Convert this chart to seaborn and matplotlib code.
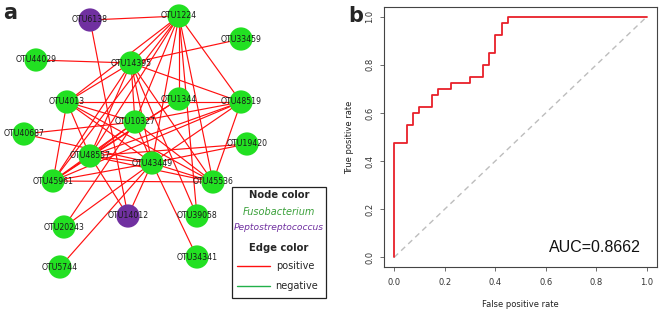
import matplotlib
matplotlib.use("Agg")
import matplotlib.pyplot as plt
import seaborn as sns
import pandas as pd

# ---------------- data ----------------
node_names = ["OTU6138", "OTU1224", "OTU44029", "OTU14395", "OTU33459", "OTU4013",
              "OTU1344", "OTU48519", "OTU10327", "OTU40687", "OTU19420", "OTU48557",
              "OTU43449", "OTU45961", "OTU45536", "OTU14012", "OTU39058", "OTU20243",
              "OTU34341", "OTU5744"]
node_genus = ["Peptostreptococcus", "Fusobacterium", "Fusobacterium", "Fusobacterium",
              "Fusobacterium", "Fusobacterium", "Fusobacterium", "Fusobacterium",
              "Fusobacterium", "Fusobacterium", "Fusobacterium", "Fusobacterium",
              "Fusobacterium", "Fusobacterium", "Fusobacterium", "Peptostreptococcus",
              "Fusobacterium", "Fusobacterium", "Fusobacterium", "Fusobacterium"]
edges = [
    ("OTU6138", "OTU1224"), ("OTU6138", "OTU14012"), ("OTU44029", "OTU14395"),
    ("OTU14395", "OTU33459"), ("OTU14395", "OTU48519"), ("OTU1224", "OTU14395"),
    ("OTU1224", "OTU4013"), ("OTU1224", "OTU10327"), ("OTU1224", "OTU48557"),
    ("OTU1224", "OTU45961"), ("OTU1224", "OTU43449"), ("OTU1224", "OTU1344"),
    ("OTU1224", "OTU48519"), ("OTU1224", "OTU45536"), ("OTU1224", "OTU39058"),
    ("OTU14395", "OTU4013"), ("OTU14395", "OTU45961"), ("OTU14395", "OTU48557"),
    ("OTU14395", "OTU10327"), ("OTU14395", "OTU43449"), ("OTU14395", "OTU39058"),
    ("OTU14395", "OTU45536"), ("OTU4013", "OTU48519"), ("OTU4013", "OTU10327"),
    ("OTU4013", "OTU43449"), ("OTU4013", "OTU45536"), ("OTU4013", "OTU45961"),
    ("OTU4013", "OTU48557"), ("OTU1344", "OTU45961"), ("OTU1344", "OTU48557"),
    ("OTU48519", "OTU10327"), ("OTU48519", "OTU48557"), ("OTU48519", "OTU45961"),
    ("OTU48519", "OTU43449"), ("OTU48519", "OTU45536"), ("OTU40687", "OTU10327"),
    ("OTU40687", "OTU43449"), ("OTU10327", "OTU45961"), ("OTU10327", "OTU48557"),
    ("OTU10327", "OTU43449"), ("OTU10327", "OTU45536"), ("OTU10327", "OTU20243"),
    ("OTU48557", "OTU43449"), ("OTU48557", "OTU45536"), ("OTU48557", "OTU14012"),
    ("OTU48557", "OTU45961"), ("OTU45961", "OTU43449"), ("OTU45961", "OTU45536"),
    ("OTU43449", "OTU19420"), ("OTU43449", "OTU45536"), ("OTU43449", "OTU34341"),
    ("OTU43449", "OTU14012"), ("OTU43449", "OTU20243"), ("OTU43449", "OTU5744"),
    ("OTU19420", "OTU48557"),
]

fpr = [0.0, 0.0, 0.05, 0.075, 0.1, 0.15, 0.175, 0.225, 0.3, 0.35, 0.375, 0.4, 0.425, 0.45, 1.0]
tpr = [0.0, 0.475, 0.55, 0.6, 0.625, 0.675, 0.7, 0.725, 0.75, 0.8, 0.85, 0.925, 0.975, 1.0, 1.0]
auc_text = "AUC=0.8662"
x_ticks = [0.0, 0.2, 0.4, 0.6, 0.8, 1.0]
y_ticks = [0.0, 0.2, 0.4, 0.6, 0.8, 1.0]

# ---------------- layout (pixel positions of network nodes) ----------------
layout = {
    "OTU6138": (90, 20), "OTU1224": (179, 16), "OTU44029": (36, 60), "OTU14395": (131, 63),
    "OTU33459": (241, 39), "OTU4013": (67, 102), "OTU1344": (179, 99), "OTU48519": (241, 102),
    "OTU10327": (135, 122), "OTU40687": (24, 134), "OTU19420": (247, 144), "OTU48557": (90, 156),
    "OTU43449": (152, 163), "OTU45961": (53, 181), "OTU45536": (213, 182), "OTU14012": (128, 216),
    "OTU39058": (197, 216), "OTU20243": (64, 227), "OTU34341": (197, 257), "OTU5744": (60, 267),
}

sns.set_style("white")
plt.rcParams["font.family"] = ["DejaVu Sans"]

fig = plt.figure(figsize=(6.6, 3.1), dpi=100)

# ---------------- panel a: network ----------------
ax1 = fig.add_axes([0, 0, 0.5, 1])

for a, b in edges:
    (x0, y0), (x1, y1) = layout[a], layout[b]
    ax1.plot([x0, x1], [y0, y1], color="#FF1010", lw=0.85, zorder=1, solid_capstyle="butt")

nodes_df = pd.DataFrame({
    "name": node_names,
    "genus": node_genus,
    "x": [layout[n][0] for n in node_names],
    "y": [layout[n][1] for n in node_names],
})
sns.scatterplot(data=nodes_df, x="x", y="y", hue="genus",
                palette={"Fusobacterium": "#22E022", "Peptostreptococcus": "#7030A0"},
                s=280, edgecolor="none", legend=False, ax=ax1, zorder=2)
ax1.set_xlabel("")
ax1.set_ylabel("")
ax1.set_xlim(0, 330)
ax1.set_ylim(310, 0)
ax1.axis("off")
for _, r in nodes_df.iterrows():
    ax1.text(r["x"], r["y"], r["name"], ha="center", va="center", fontsize=5.6,
             color="#1a1a1a", zorder=3)

ax1.text(3, 13, "a", fontsize=15, fontweight="bold", ha="left", va="center")

# legend box
ax1.add_patch(plt.Rectangle((232, 187), 94, 111, fill=False, edgecolor="#222222", lw=0.9, zorder=4))
ax1.text(279, 195, "Node color", fontsize=7.2, fontweight="bold", ha="center", va="center")
ax1.text(279, 212, "Fusobacterium", fontsize=7, style="italic", color="#3AA03A", ha="center", va="center")
ax1.text(279, 228, "Peptostreptococcus", fontsize=6.6, style="italic", color="#7030A0", ha="center", va="center")
ax1.text(279, 248, "Edge color", fontsize=7.2, fontweight="bold", ha="center", va="center")
ax1.plot([237, 270], [266, 266], color="#FF1010", lw=1.0)
ax1.text(276, 266, "positive", fontsize=7, ha="left", va="center")
ax1.plot([237, 270], [286, 286], color="#22B04A", lw=1.0)
ax1.text(275, 286, "negative", fontsize=7, ha="left", va="center")

# ---------------- panel b: ROC ----------------
ax2 = fig.add_axes([384 / 660, 1 - 267 / 310, (657 - 384) / 660, (267 - 7) / 310])
roc_df = pd.DataFrame({"fpr": fpr, "tpr": tpr})
ax2.plot([0, 1], [0, 1], color="#BDBDBD", lw=1.0, dashes=(4, 3), zorder=1)
sns.lineplot(data=roc_df, x="fpr", y="tpr", estimator=None, sort=False,
             drawstyle="steps-post", color="#E8202A", lw=1.3, ax=ax2, zorder=2)
ax2.set_xlim(-0.04, 1.04)
ax2.set_ylim(-0.04, 1.04)
ax2.set_xticks(x_ticks)
ax2.set_yticks(y_ticks)
ax2.set_xticklabels([f"{v:.1f}" for v in x_ticks])
ax2.set_yticklabels([f"{v:.1f}" for v in y_ticks], rotation=90, va="center")
ax2.tick_params(axis="both", direction="out", length=3, width=0.6, color="#555555",
                labelsize=6, labelcolor="#333333", bottom=True, left=True)
ax2.tick_params(axis="x", pad=5)
ax2.tick_params(axis="y", pad=4)
for sp in ax2.spines.values():
    sp.set_color("#444444")
    sp.set_linewidth(0.8)
ax2.set_xlabel("False positive rate", fontsize=6, color="#222222", labelpad=9)
ax2.set_ylabel("True positive rate", fontsize=6, color="#222222", labelpad=8)
ax2.text(0.795, 0.04, auc_text, fontsize=11.5, ha="center", va="center",
         family=["Liberation Sans", "DejaVu Sans"], color="#111111")

fig.text(348 / 660, 1 - 16 / 310, "b", fontsize=15, fontweight="bold", ha="left", va="center")

fig.savefig("out.png", dpi=100)
